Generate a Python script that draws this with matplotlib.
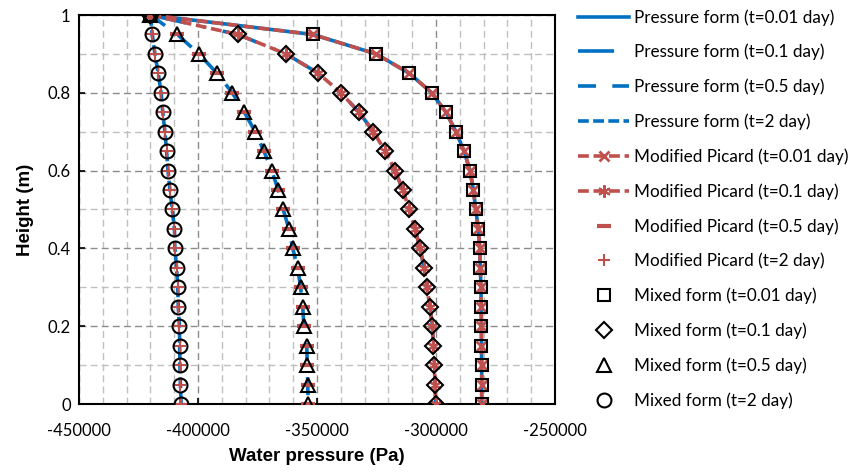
import matplotlib
matplotlib.use("Agg")
import matplotlib.pyplot as plt
from matplotlib.ticker import MultipleLocator

# Heights of the computed nodes (m)
height = [1.0, 0.95, 0.9, 0.85, 0.8, 0.75, 0.7, 0.65, 0.6, 0.55, 0.5,
          0.45, 0.4, 0.35, 0.3, 0.25, 0.2, 0.15, 0.1, 0.05, 0.0]

# Water pressure (Pa) at each height, one list per time
p_001 = [-420000, -351800, -325200, -311200, -301800, -295800, -291600,
         -288200, -285700, -284300, -283300, -282200, -281600, -281400,
         -281100, -281000, -280900, -280900, -280800, -280800, -280800]
p_01 = [-420000, -383300, -363000, -349400, -340000, -332300, -326300,
        -321300, -317200, -313900, -311300, -308800, -306700, -305000,
        -303900, -302500, -301500, -301100, -300700, -300400, -300100]
p_05 = [-420000, -408700, -399600, -392000, -385600, -380500, -376000,
        -372300, -369000, -366300, -364200, -361800, -360200, -358100,
        -356900, -356000, -355500, -354300, -354100, -353900, -353700]
p_2 = [-420000, -419200, -418100, -416700, -415500, -414800, -413900,
       -413200, -412600, -411800, -410800, -409900, -409700, -409000,
       -408500, -408300, -407800, -407700, -407600, -407400, -407100]

times = ["0.01", "0.1", "0.5", "2"]
series = [p_001, p_01, p_05, p_2]

blue = "#0070C0"
red = "#C0504D"

plt.rcParams['font.family'] = ['Lato', 'DejaVu Sans']
plt.rcParams['axes.unicode_minus'] = False

fig = plt.figure(figsize=(8.5, 4.73), dpi=100)
ax = fig.add_axes([79 / 850, 1 - 404 / 473, 476 / 850, 389 / 473])

blue_styles = ['-', (0, (10, 5, 0.5, 5)), (0, (5, 4.5)), (0, (3, 1.2))]
handles = []
for t, p, ls in zip(times, series, blue_styles):
    h, = ax.plot(p, height, color=blue, lw=2.6, linestyle=ls, zorder=2,
                 label=f"Pressure form (t={t} day)")
    handles.append(h)

red_markers = ['x', (6, 2, 0), '_', '+']
red_lines = [(0, (3, 1.3)), (0, (3, 1.3)), 'None', 'None']
red_ms = [7, 9, 10, 8]
red_mew = [2.0, 1.5, 3.0, 1.5]
for t, p, m, ls, ms, mew in zip(times, series, red_markers, red_lines, red_ms, red_mew):
    h, = ax.plot(p, height, color=red, lw=2.6, linestyle=ls, marker=m,
                 markersize=ms, markeredgewidth=mew, zorder=3,
                 label=f"Modified Picard (t={t} day)")
    handles.append(h)

mixed_markers = ['s', 'D', '^', 'o']
mixed_ms = [9, 8, 10, 10]
for t, p, m, ms in zip(times, series, mixed_markers, mixed_ms):
    h, = ax.plot(p, height, linestyle='None', marker=m, markersize=ms,
                 markerfacecolor='none', markeredgecolor='black',
                 markeredgewidth=1.5, zorder=4,
                 label=f"Mixed form (t={t} day)")
    handles.append(h)

ax.set_xlim(-450000, -250000)
ax.set_ylim(0, 1)
ax.xaxis.set_major_locator(MultipleLocator(50000))
ax.xaxis.set_minor_locator(MultipleLocator(10000))
ax.yaxis.set_major_locator(MultipleLocator(0.2))
ax.yaxis.set_minor_locator(MultipleLocator(0.1))
ax.set_yticks([0, 0.2, 0.4, 0.6, 0.8, 1.0])
ax.set_yticklabels(["0", "0.2", "0.4", "0.6", "0.8", "1"])
ax.grid(True, which='major', color='#8c8c8c', linestyle=(0, (5, 3)), lw=1.0)
ax.grid(True, which='minor', color='#c0c0c0', linestyle=(0, (5, 3)), lw=1.0)
ax.tick_params(which='major', direction='in', length=4, width=1.2,
               labelsize=12, pad=6)
ax.tick_params(axis='x', which='major', pad=14)
ax.tick_params(which='minor', length=0)
for s in ax.spines.values():
    s.set_linewidth(1.5)
    s.set_color('black')

ax.set_xlabel("Water pressure (Pa)", fontsize=13.5, fontweight='bold',
              family='Liberation Sans', labelpad=6)
ax.set_ylabel("Height (m)", fontsize=13.5, fontweight='bold',
              family='Liberation Sans', labelpad=10)

fig.legend(handles=handles, loc='upper left', bbox_to_anchor=(578 / 850, 1 - 9 / 473),
           frameon=False, fontsize=12.3, handlelength=3.0, handletextpad=0.3,
           labelspacing=1.07, numpoints=1, borderaxespad=0, borderpad=0)

fig.savefig("out.png", dpi=100)
